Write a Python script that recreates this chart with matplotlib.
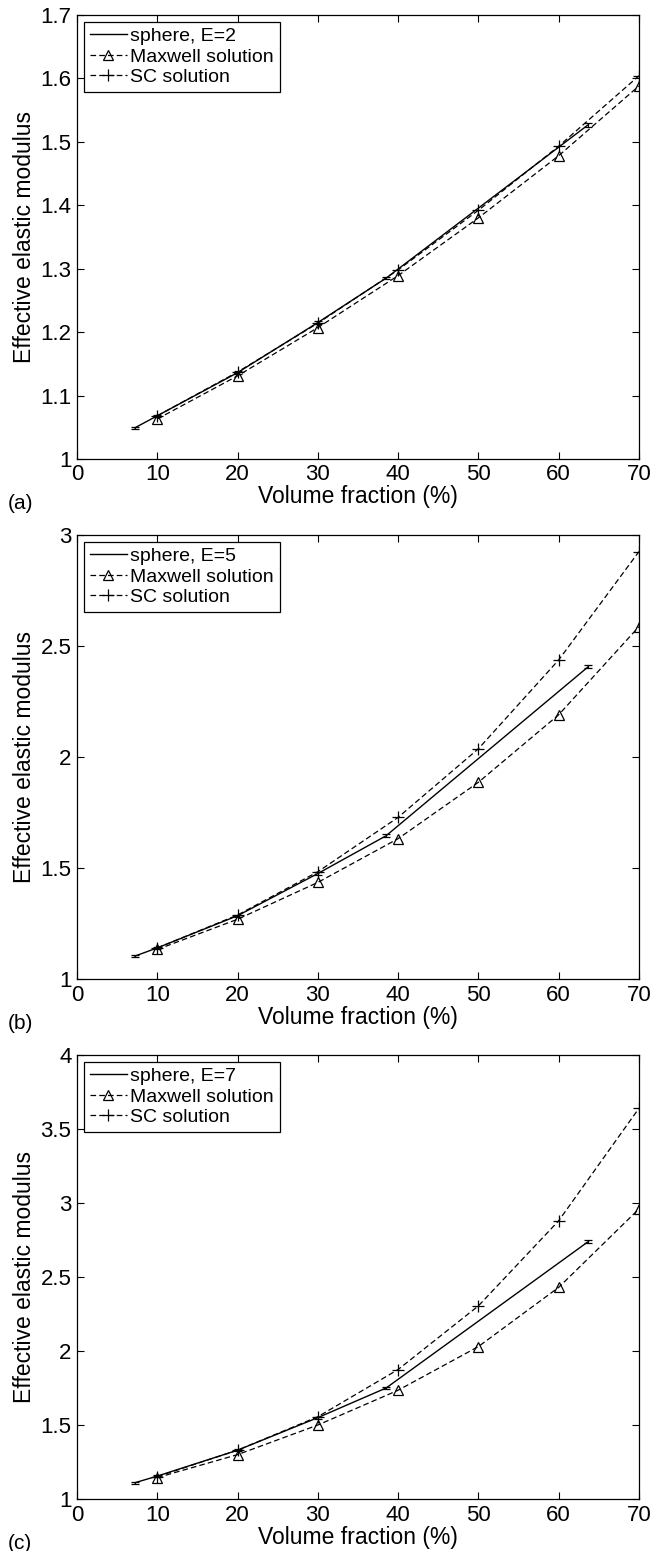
import numpy as np
import matplotlib.pyplot as plt

plt.rcParams['font.family'] = ['Liberation Sans', 'DejaVu Sans']
plt.rcParams['font.size'] = 16

# volume fractions (%)
x_sphere = [7.2, 10, 20, 30, 38.5, 63.7]
x_theory = [10, 20, 30, 40, 50, 60, 70]

# E = 2
sphere_a = [1.049, 1.068, 1.136, 1.215, 1.285, 1.527]
err_a = [0.002, 0.002, 0.002, 0.002, 0.002, 0.003]
maxwell_a = [1.063, 1.131, 1.207, 1.289, 1.380, 1.478, 1.588]
sc_a = [1.068, 1.137, 1.214, 1.298, 1.392, 1.493, 1.604]

# E = 5
sphere_b = [1.103, 1.140, 1.285, 1.475, 1.645, 2.407]
err_b = [0.004, 0.004, 0.004, 0.005, 0.006, 0.007]
maxwell_b = [1.133, 1.269, 1.435, 1.632, 1.886, 2.190, 2.587]
sc_b = [1.140, 1.288, 1.483, 1.728, 2.037, 2.437, 2.925]

# E = 7
sphere_c = [1.110, 1.155, 1.330, 1.550, 1.750, 2.740]
err_c = [0.006, 0.006, 0.006, 0.007, 0.008, 0.010]
maxwell_c = [1.145, 1.300, 1.500, 1.735, 2.030, 2.430, 2.960]
sc_c = [1.152, 1.330, 1.556, 1.875, 2.305, 2.880, 3.640]

panels = [
    ('(a)', 'sphere, E=2', sphere_a, err_a, maxwell_a, sc_a, (1, 1.7), np.arange(1, 1.71, 0.1), 0.7041),
    ('(b)', 'sphere, E=5', sphere_b, err_b, maxwell_b, sc_b, (1, 3), np.arange(1, 3.01, 0.5), 0.3688),
    ('(c)', 'sphere, E=7', sphere_c, err_c, maxwell_c, sc_c, (1, 4), np.arange(1, 4.01, 0.5), 0.0335),
]

fig = plt.figure(figsize=(6.66, 15.51), dpi=100)
dash = (0, (4.5, 2.5))

for tag, name, sph, err, mx, sc, ylim, yticks, bottom in panels:
    ax = fig.add_axes([0.1156, bottom, 0.8438, 0.2863])
    h1, = ax.plot(x_sphere, sph, 'k-', lw=1.0, label=name)
    ax.errorbar(x_sphere, sph, yerr=err, fmt='none', ecolor='k', elinewidth=0.8, capsize=3, capthick=0.9)
    h2, = ax.plot(x_theory, mx, color='k', ls=dash, lw=0.9, marker='^', mfc='none', mec='k',
                  ms=7, mew=0.9, label='Maxwell solution')
    h3, = ax.plot(x_theory, sc, color='k', ls=dash, lw=0.9, marker='+', ms=8, mew=0.9,
                  label='SC solution')

    ax.set_xlim(0, 70)
    ax.set_ylim(*ylim)
    ax.set_xticks(np.arange(0, 71, 10))
    ax.set_yticks(yticks)
    ax.set_yticklabels([f'{v:g}' for v in yticks])
    ax.tick_params(direction='in', top=True, right=True, length=5, width=0.8, labelsize=16)
    ax.tick_params(axis='x', pad=4)
    ax.tick_params(axis='y', pad=4)
    for s in ax.spines.values():
        s.set_linewidth(0.9)

    ax.set_xlabel('Volume fraction (%)', fontsize=16.5, labelpad=0)
    ax.set_ylabel('Effective elastic modulus', fontsize=16.5, labelpad=3)

    leg = ax.legend(handles=[h1, h2, h3], loc='upper left', fontsize=14, numpoints=1,
                    handlelength=1.9, handletextpad=0.2, borderaxespad=0.35,
                    borderpad=0.3, labelspacing=0.15, fancybox=False, framealpha=1)
    leg.get_frame().set_edgecolor('k')
    leg.get_frame().set_linewidth(0.9)

    fig.text(0.012, bottom - 0.0285, tag, fontsize=15, va='center', ha='left')

fig.savefig('out.png', dpi=100)
